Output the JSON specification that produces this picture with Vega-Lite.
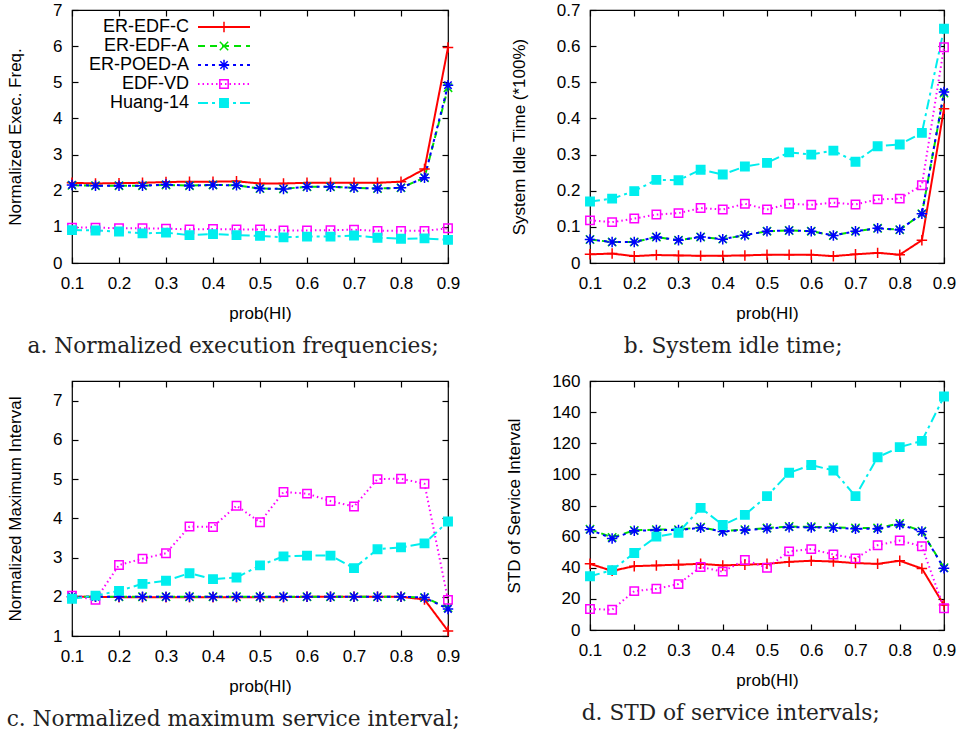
{
"$schema": "https://vega.github.io/schema/vega-lite/v6.json",
"padding": {"left": 5, "top": 0, "right": 0, "bottom": 5},
"background": "white",
"datasets": {
"a": [
{"p":0.1,"ER-EDF-C":2.22,"ER-EDF-A":2.15,"ER-POED-A":2.16,"EDF-VD":0.98,"Huang-14":0.91},
{"p":0.15,"ER-EDF-C":2.2,"ER-EDF-A":2.14,"ER-POED-A":2.14,"EDF-VD":0.98,"Huang-14":0.9},
{"p":0.2,"ER-EDF-C":2.21,"ER-EDF-A":2.14,"ER-POED-A":2.14,"EDF-VD":0.96,"Huang-14":0.87},
{"p":0.25,"ER-EDF-C":2.22,"ER-EDF-A":2.14,"ER-POED-A":2.14,"EDF-VD":0.96,"Huang-14":0.82},
{"p":0.3,"ER-EDF-C":2.24,"ER-EDF-A":2.16,"ER-POED-A":2.17,"EDF-VD":0.95,"Huang-14":0.84},
{"p":0.35,"ER-EDF-C":2.25,"ER-EDF-A":2.14,"ER-POED-A":2.14,"EDF-VD":0.93,"Huang-14":0.77},
{"p":0.4,"ER-EDF-C":2.25,"ER-EDF-A":2.16,"ER-POED-A":2.16,"EDF-VD":0.94,"Huang-14":0.8},
{"p":0.45,"ER-EDF-C":2.26,"ER-EDF-A":2.15,"ER-POED-A":2.15,"EDF-VD":0.93,"Huang-14":0.77},
{"p":0.5,"ER-EDF-C":2.2,"ER-EDF-A":2.06,"ER-POED-A":2.06,"EDF-VD":0.93,"Huang-14":0.75},
{"p":0.55,"ER-EDF-C":2.2,"ER-EDF-A":2.05,"ER-POED-A":2.05,"EDF-VD":0.9,"Huang-14":0.71},
{"p":0.6,"ER-EDF-C":2.22,"ER-EDF-A":2.11,"ER-POED-A":2.11,"EDF-VD":0.9,"Huang-14":0.73},
{"p":0.65,"ER-EDF-C":2.22,"ER-EDF-A":2.11,"ER-POED-A":2.11,"EDF-VD":0.91,"Huang-14":0.73},
{"p":0.7,"ER-EDF-C":2.22,"ER-EDF-A":2.08,"ER-POED-A":2.08,"EDF-VD":0.92,"Huang-14":0.76},
{"p":0.75,"ER-EDF-C":2.22,"ER-EDF-A":2.06,"ER-POED-A":2.06,"EDF-VD":0.89,"Huang-14":0.7},
{"p":0.8,"ER-EDF-C":2.25,"ER-EDF-A":2.08,"ER-POED-A":2.08,"EDF-VD":0.89,"Huang-14":0.67},
{"p":0.85,"ER-EDF-C":2.6,"ER-EDF-A":2.36,"ER-POED-A":2.36,"EDF-VD":0.89,"Huang-14":0.68},
{"p":0.9,"ER-EDF-C":5.96,"ER-EDF-A":4.85,"ER-POED-A":4.92,"EDF-VD":0.96,"Huang-14":0.64}
],
"b": [
{"p":0.1,"ER-EDF-C":0.024,"ER-EDF-A":0.065,"ER-POED-A":0.065,"EDF-VD":0.118,"Huang-14":0.17},
{"p":0.15,"ER-EDF-C":0.026,"ER-EDF-A":0.058,"ER-POED-A":0.058,"EDF-VD":0.113,"Huang-14":0.178},
{"p":0.2,"ER-EDF-C":0.019,"ER-EDF-A":0.058,"ER-POED-A":0.058,"EDF-VD":0.123,"Huang-14":0.199},
{"p":0.25,"ER-EDF-C":0.022,"ER-EDF-A":0.072,"ER-POED-A":0.072,"EDF-VD":0.134,"Huang-14":0.23},
{"p":0.3,"ER-EDF-C":0.021,"ER-EDF-A":0.063,"ER-POED-A":0.063,"EDF-VD":0.138,"Huang-14":0.229},
{"p":0.35,"ER-EDF-C":0.02,"ER-EDF-A":0.072,"ER-POED-A":0.072,"EDF-VD":0.152,"Huang-14":0.258},
{"p":0.4,"ER-EDF-C":0.02,"ER-EDF-A":0.066,"ER-POED-A":0.066,"EDF-VD":0.148,"Huang-14":0.245},
{"p":0.45,"ER-EDF-C":0.021,"ER-EDF-A":0.077,"ER-POED-A":0.077,"EDF-VD":0.164,"Huang-14":0.267},
{"p":0.5,"ER-EDF-C":0.023,"ER-EDF-A":0.088,"ER-POED-A":0.088,"EDF-VD":0.148,"Huang-14":0.277},
{"p":0.55,"ER-EDF-C":0.023,"ER-EDF-A":0.09,"ER-POED-A":0.09,"EDF-VD":0.164,"Huang-14":0.306},
{"p":0.6,"ER-EDF-C":0.023,"ER-EDF-A":0.088,"ER-POED-A":0.088,"EDF-VD":0.161,"Huang-14":0.3},
{"p":0.65,"ER-EDF-C":0.019,"ER-EDF-A":0.076,"ER-POED-A":0.076,"EDF-VD":0.167,"Huang-14":0.311},
{"p":0.7,"ER-EDF-C":0.024,"ER-EDF-A":0.088,"ER-POED-A":0.088,"EDF-VD":0.162,"Huang-14":0.28},
{"p":0.75,"ER-EDF-C":0.028,"ER-EDF-A":0.096,"ER-POED-A":0.096,"EDF-VD":0.176,"Huang-14":0.323},
{"p":0.8,"ER-EDF-C":0.023,"ER-EDF-A":0.092,"ER-POED-A":0.092,"EDF-VD":0.178,"Huang-14":0.328},
{"p":0.85,"ER-EDF-C":0.063,"ER-EDF-A":0.136,"ER-POED-A":0.136,"EDF-VD":0.215,"Huang-14":0.36},
{"p":0.9,"ER-EDF-C":0.427,"ER-EDF-A":0.47,"ER-POED-A":0.473,"EDF-VD":0.597,"Huang-14":0.648}
],
"c": [
{"p":0.1,"ER-EDF-C":2.0,"ER-EDF-A":2.0,"ER-POED-A":2.0,"EDF-VD":2.03,"Huang-14":1.95},
{"p":0.15,"ER-EDF-C":2.0,"ER-EDF-A":2.0,"ER-POED-A":2.0,"EDF-VD":1.92,"Huang-14":2.03},
{"p":0.2,"ER-EDF-C":1.99,"ER-EDF-A":2.0,"ER-POED-A":2.0,"EDF-VD":2.81,"Huang-14":2.15},
{"p":0.25,"ER-EDF-C":1.99,"ER-EDF-A":2.0,"ER-POED-A":2.0,"EDF-VD":2.97,"Huang-14":2.33},
{"p":0.3,"ER-EDF-C":1.99,"ER-EDF-A":2.0,"ER-POED-A":2.0,"EDF-VD":3.11,"Huang-14":2.41},
{"p":0.35,"ER-EDF-C":1.99,"ER-EDF-A":2.0,"ER-POED-A":2.0,"EDF-VD":3.79,"Huang-14":2.6},
{"p":0.4,"ER-EDF-C":1.99,"ER-EDF-A":2.0,"ER-POED-A":2.0,"EDF-VD":3.78,"Huang-14":2.45},
{"p":0.45,"ER-EDF-C":1.99,"ER-EDF-A":2.0,"ER-POED-A":2.0,"EDF-VD":4.32,"Huang-14":2.49},
{"p":0.5,"ER-EDF-C":1.99,"ER-EDF-A":2.0,"ER-POED-A":2.0,"EDF-VD":3.9,"Huang-14":2.8},
{"p":0.55,"ER-EDF-C":1.99,"ER-EDF-A":2.0,"ER-POED-A":2.0,"EDF-VD":4.67,"Huang-14":3.03},
{"p":0.6,"ER-EDF-C":2.0,"ER-EDF-A":2.0,"ER-POED-A":2.0,"EDF-VD":4.63,"Huang-14":3.05},
{"p":0.65,"ER-EDF-C":2.0,"ER-EDF-A":2.0,"ER-POED-A":2.0,"EDF-VD":4.44,"Huang-14":3.05},
{"p":0.7,"ER-EDF-C":2.0,"ER-EDF-A":2.0,"ER-POED-A":2.0,"EDF-VD":4.3,"Huang-14":2.73},
{"p":0.75,"ER-EDF-C":2.0,"ER-EDF-A":2.0,"ER-POED-A":2.0,"EDF-VD":5.0,"Huang-14":3.21},
{"p":0.8,"ER-EDF-C":2.0,"ER-EDF-A":2.0,"ER-POED-A":2.0,"EDF-VD":5.01,"Huang-14":3.26},
{"p":0.85,"ER-EDF-C":1.93,"ER-EDF-A":1.98,"ER-POED-A":1.98,"EDF-VD":4.88,"Huang-14":3.36},
{"p":0.9,"ER-EDF-C":1.13,"ER-EDF-A":1.72,"ER-POED-A":1.69,"EDF-VD":1.92,"Huang-14":3.92}
],
"d": [
{"p":0.1,"ER-EDF-C":42.5,"ER-EDF-A":64.8,"ER-POED-A":64.4,"EDF-VD":13.5,"Huang-14":34.5},
{"p":0.15,"ER-EDF-C":38,"ER-EDF-A":59.5,"ER-POED-A":58.8,"EDF-VD":13,"Huang-14":38.5},
{"p":0.2,"ER-EDF-C":41,"ER-EDF-A":64,"ER-POED-A":63.7,"EDF-VD":25,"Huang-14":49.5},
{"p":0.25,"ER-EDF-C":41.5,"ER-EDF-A":64.5,"ER-POED-A":64.2,"EDF-VD":26.5,"Huang-14":60},
{"p":0.3,"ER-EDF-C":42,"ER-EDF-A":64.5,"ER-POED-A":64.2,"EDF-VD":29.5,"Huang-14":62.5},
{"p":0.35,"ER-EDF-C":42.5,"ER-EDF-A":66,"ER-POED-A":65.7,"EDF-VD":40.5,"Huang-14":78.5},
{"p":0.4,"ER-EDF-C":41.5,"ER-EDF-A":63.5,"ER-POED-A":63.3,"EDF-VD":37.5,"Huang-14":67.5},
{"p":0.45,"ER-EDF-C":42,"ER-EDF-A":64.5,"ER-POED-A":64.2,"EDF-VD":45,"Huang-14":74},
{"p":0.5,"ER-EDF-C":42.5,"ER-EDF-A":65.5,"ER-POED-A":65.2,"EDF-VD":40,"Huang-14":86},
{"p":0.55,"ER-EDF-C":43.8,"ER-EDF-A":66.5,"ER-POED-A":66.1,"EDF-VD":50.5,"Huang-14":101},
{"p":0.6,"ER-EDF-C":44.5,"ER-EDF-A":66.3,"ER-POED-A":65.9,"EDF-VD":52,"Huang-14":106},
{"p":0.65,"ER-EDF-C":44,"ER-EDF-A":66,"ER-POED-A":65.7,"EDF-VD":48.5,"Huang-14":102.5},
{"p":0.7,"ER-EDF-C":43,"ER-EDF-A":65.5,"ER-POED-A":65,"EDF-VD":46,"Huang-14":86},
{"p":0.75,"ER-EDF-C":42.5,"ER-EDF-A":65.5,"ER-POED-A":65,"EDF-VD":54.5,"Huang-14":111},
{"p":0.8,"ER-EDF-C":44.5,"ER-EDF-A":68.5,"ER-POED-A":67.8,"EDF-VD":57.5,"Huang-14":117.5},
{"p":0.85,"ER-EDF-C":39.5,"ER-EDF-A":63.5,"ER-POED-A":63.3,"EDF-VD":53.8,"Huang-14":121.5},
{"p":0.9,"ER-EDF-C":16,"ER-EDF-A":40,"ER-POED-A":39.6,"EDF-VD":14,"Huang-14":150}
]
},
"columns": 2,
"spacing": {"row": 12, "column": 44},
"concat": [
{
"width": 376, "height": 253,
"data": {"name": "a"},
"transform": [{"fold": ["ER-EDF-C","ER-EDF-A","ER-POED-A","EDF-VD","Huang-14"], "as": ["series","value"]}],
"title": {"text": "a. Normalized execution frequencies;"},
"layer": [
{"mark": {"type": "line", "strokeWidth": 2},
"encoding": {
"x": {"field": "p", "type": "quantitative", "scale": {"domain": [0.1, 0.9], "nice": false, "zero": false}, "axis": {"orient": "bottom", "title": "prob(HI)", "values": [0.1,0.2,0.3,0.4,0.5,0.6,0.7,0.8,0.9], "format": ".1f"}},
"y": {"field": "value", "type": "quantitative", "scale": {"domain": [0, 7], "nice": false}, "axis": {"orient": "left", "title": "Normalized Exec. Freq.", "values": [0,1,2,3,4,5,6,7], "format": "d"}},
"color": {"field": "series", "type": "nominal", "scale": {"domain": ["ER-EDF-C","ER-EDF-A","ER-POED-A","EDF-VD","Huang-14"], "range": ["#ff0000","#00e000","#0000ff","#ff00ff","#00eeee"]}, "legend": {"orient": "none", "legendX": 143, "legendY": 8, "title": null, "symbolType": "M-5,0H5", "symbolSize": 108, "symbolStrokeWidth": 2, "labelAlign": "right", "labelOffset": -44, "labelFontSize": 18, "rowPadding": 1, "padding": 0}},
"strokeDash": {"field": "series", "type": "nominal", "scale": {"domain": ["ER-EDF-C","ER-EDF-A","ER-POED-A","EDF-VD","Huang-14"], "range": [[1,0],[7,5],[3,4],[1.5,3],[10,4,3,4]]}, "legend": {"orient": "none", "legendX": 143, "legendY": 8, "title": null, "symbolType": "M-5,0H5", "symbolSize": 108, "symbolStrokeWidth": 2, "labelAlign": "right", "labelOffset": -44, "labelFontSize": 18, "rowPadding": 1, "padding": 0}}
}},
{"mark": {"type": "point", "size": 110, "strokeWidth": 1.5, "opacity": 1},
"encoding": {
"x": {"field": "p", "type": "quantitative", "scale": {"domain": [0.1, 0.9], "nice": false, "zero": false}, "axis": {"orient": "top", "labels": false, "title": null, "values": [0.1,0.2,0.3,0.4,0.5,0.6,0.7,0.8,0.9]}},
"y": {"field": "value", "type": "quantitative", "scale": {"domain": [0, 7], "nice": false}, "axis": {"orient": "right", "labels": false, "title": null, "values": [0,1,2,3,4,5,6,7]}},
"stroke": {"field": "series", "type": "nominal", "sort": ["ER-EDF-C","ER-EDF-A","ER-POED-A","EDF-VD","Huang-14"], "scale": {"range": ["#ff0000","#00e000","#0000ff","#ff00ff","#00eeee"]}, "legend": null},
"fill": {"field": "series", "type": "nominal", "sort": ["ER-EDF-C","ER-EDF-A","ER-POED-A","EDF-VD","Huang-14"], "scale": {"range": ["transparent","transparent","transparent","transparent","#00eeee"]}, "legend": null},
"shape": {"field": "series", "type": "nominal", "sort": ["ER-EDF-C","ER-EDF-A","ER-POED-A","EDF-VD","Huang-14"], "scale": {"range": ["M-1,0H1M0,-1V1","M-0.8,-0.8L0.8,0.8M-0.8,0.8L0.8,-0.8","M-1,0H1M0,-1V1M-0.7,-0.7L0.7,0.7M-0.7,0.7L0.7,-0.7","M-0.8,-0.8H0.8V0.8H-0.8Z","M-0.8,-0.8H0.8V0.8H-0.8Z"]}, "legend": {"orient": "none", "legendX": 143, "legendY": 8, "title": null, "symbolSize": 110, "symbolStrokeWidth": 1.5, "labelOpacity": 0, "labelFontSize": 18, "rowPadding": 1, "padding": 0, "symbolOpacity": 1, "symbolStrokeColor": {"expr": "datum.value === 'ER-EDF-C' ? '#ff0000' : datum.value === 'ER-EDF-A' ? '#00e000' : datum.value === 'ER-POED-A' ? '#0000ff' : datum.value === 'EDF-VD' ? '#ff00ff' : '#00eeee'"}, "symbolFillColor": {"expr": "datum.value === 'Huang-14' ? '#00eeee' : 'transparent'"}}}
}}
]
},
{
"width": 354, "height": 253,
"data": {"name": "b"},
"transform": [{"fold": ["ER-EDF-C","ER-EDF-A","ER-POED-A","EDF-VD","Huang-14"], "as": ["series","value"]}],
"title": {"text": "b. System idle time;"},
"layer": [
{"mark": {"type": "line", "strokeWidth": 2},
"encoding": {
"x": {"field": "p", "type": "quantitative", "scale": {"domain": [0.1, 0.9], "nice": false, "zero": false}, "axis": {"orient": "bottom", "title": "prob(HI)", "values": [0.1,0.2,0.3,0.4,0.5,0.6,0.7,0.8,0.9], "format": ".1f"}},
"y": {"field": "value", "type": "quantitative", "scale": {"domain": [0, 0.7], "nice": false}, "axis": {"orient": "left", "title": "System Idle Time (*100%)", "values": [0,0.1,0.2,0.3,0.4,0.5,0.6,0.7], "format": "~g"}},
"color": {"field": "series", "type": "nominal", "scale": {"domain": ["ER-EDF-C","ER-EDF-A","ER-POED-A","EDF-VD","Huang-14"], "range": ["#ff0000","#00e000","#0000ff","#ff00ff","#00eeee"]}, "legend": {"orient": "none", "legendX": 143, "legendY": 8, "title": null, "symbolType": "M-5,0H5", "symbolSize": 108, "symbolStrokeWidth": 2, "labelAlign": "right", "labelOffset": -44, "labelFontSize": 18, "rowPadding": 1, "padding": 0}},
"strokeDash": {"field": "series", "type": "nominal", "scale": {"domain": ["ER-EDF-C","ER-EDF-A","ER-POED-A","EDF-VD","Huang-14"], "range": [[1,0],[7,5],[3,4],[1.5,3],[10,4,3,4]]}, "legend": {"orient": "none", "legendX": 143, "legendY": 8, "title": null, "symbolType": "M-5,0H5", "symbolSize": 108, "symbolStrokeWidth": 2, "labelAlign": "right", "labelOffset": -44, "labelFontSize": 18, "rowPadding": 1, "padding": 0}}
}},
{"mark": {"type": "point", "size": 110, "strokeWidth": 1.5, "opacity": 1},
"encoding": {
"x": {"field": "p", "type": "quantitative", "scale": {"domain": [0.1, 0.9], "nice": false, "zero": false}, "axis": {"orient": "top", "labels": false, "title": null, "values": [0.1,0.2,0.3,0.4,0.5,0.6,0.7,0.8,0.9]}},
"y": {"field": "value", "type": "quantitative", "scale": {"domain": [0, 0.7], "nice": false}, "axis": {"orient": "right", "labels": false, "title": null, "values": [0,0.1,0.2,0.3,0.4,0.5,0.6,0.7]}},
"stroke": {"field": "series", "type": "nominal", "sort": ["ER-EDF-C","ER-EDF-A","ER-POED-A","EDF-VD","Huang-14"], "scale": {"range": ["#ff0000","#00e000","#0000ff","#ff00ff","#00eeee"]}, "legend": null},
"fill": {"field": "series", "type": "nominal", "sort": ["ER-EDF-C","ER-EDF-A","ER-POED-A","EDF-VD","Huang-14"], "scale": {"range": ["transparent","transparent","transparent","transparent","#00eeee"]}, "legend": null},
"shape": {"field": "series", "type": "nominal", "sort": ["ER-EDF-C","ER-EDF-A","ER-POED-A","EDF-VD","Huang-14"], "scale": {"range": ["M-1,0H1M0,-1V1","M-0.8,-0.8L0.8,0.8M-0.8,0.8L0.8,-0.8","M-1,0H1M0,-1V1M-0.7,-0.7L0.7,0.7M-0.7,0.7L0.7,-0.7","M-0.8,-0.8H0.8V0.8H-0.8Z","M-0.8,-0.8H0.8V0.8H-0.8Z"]}, "legend": {"orient": "none", "legendX": 143, "legendY": 8, "title": null, "symbolSize": 110, "symbolStrokeWidth": 1.5, "labelOpacity": 0, "labelFontSize": 18, "rowPadding": 1, "padding": 0, "symbolOpacity": 1, "symbolStrokeColor": {"expr": "datum.value === 'ER-EDF-C' ? '#ff0000' : datum.value === 'ER-EDF-A' ? '#00e000' : datum.value === 'ER-POED-A' ? '#0000ff' : datum.value === 'EDF-VD' ? '#ff00ff' : '#00eeee'"}, "symbolFillColor": {"expr": "datum.value === 'Huang-14' ? '#00eeee' : 'transparent'"}}}
}}
]
},
{
"width": 376, "height": 255,
"data": {"name": "c"},
"transform": [{"fold": ["ER-EDF-C","ER-EDF-A","ER-POED-A","EDF-VD","Huang-14"], "as": ["series","value"]}],
"title": {"text": "c. Normalized maximum service interval;"},
"layer": [
{"mark": {"type": "line", "strokeWidth": 2},
"encoding": {
"x": {"field": "p", "type": "quantitative", "scale": {"domain": [0.1, 0.9], "nice": false, "zero": false}, "axis": {"orient": "bottom", "title": "prob(HI)", "values": [0.1,0.2,0.3,0.4,0.5,0.6,0.7,0.8,0.9], "format": ".1f"}},
"y": {"field": "value", "type": "quantitative", "scale": {"domain": [1, 7.5], "nice": false, "zero": false}, "axis": {"orient": "left", "title": "Normalized Maximum Interval", "values": [1,2,3,4,5,6,7], "format": "d"}},
"color": {"field": "series", "type": "nominal", "scale": {"domain": ["ER-EDF-C","ER-EDF-A","ER-POED-A","EDF-VD","Huang-14"], "range": ["#ff0000","#00e000","#0000ff","#ff00ff","#00eeee"]}, "legend": {"orient": "none", "legendX": 143, "legendY": 10, "title": null, "symbolType": "M-5,0H5", "symbolSize": 108, "symbolStrokeWidth": 2, "labelAlign": "right", "labelOffset": -44, "labelFontSize": 18, "rowPadding": 1, "padding": 0}},
"strokeDash": {"field": "series", "type": "nominal", "scale": {"domain": ["ER-EDF-C","ER-EDF-A","ER-POED-A","EDF-VD","Huang-14"], "range": [[1,0],[7,5],[3,4],[1.5,3],[10,4,3,4]]}, "legend": {"orient": "none", "legendX": 143, "legendY": 10, "title": null, "symbolType": "M-5,0H5", "symbolSize": 108, "symbolStrokeWidth": 2, "labelAlign": "right", "labelOffset": -44, "labelFontSize": 18, "rowPadding": 1, "padding": 0}}
}},
{"mark": {"type": "point", "size": 110, "strokeWidth": 1.5, "opacity": 1},
"encoding": {
"x": {"field": "p", "type": "quantitative", "scale": {"domain": [0.1, 0.9], "nice": false, "zero": false}, "axis": {"orient": "top", "labels": false, "title": null, "values": [0.1,0.2,0.3,0.4,0.5,0.6,0.7,0.8,0.9]}},
"y": {"field": "value", "type": "quantitative", "scale": {"domain": [1, 7.5], "nice": false, "zero": false}, "axis": {"orient": "right", "labels": false, "title": null, "values": [1,2,3,4,5,6,7]}},
"stroke": {"field": "series", "type": "nominal", "sort": ["ER-EDF-C","ER-EDF-A","ER-POED-A","EDF-VD","Huang-14"], "scale": {"range": ["#ff0000","#00e000","#0000ff","#ff00ff","#00eeee"]}, "legend": null},
"fill": {"field": "series", "type": "nominal", "sort": ["ER-EDF-C","ER-EDF-A","ER-POED-A","EDF-VD","Huang-14"], "scale": {"range": ["transparent","transparent","transparent","transparent","#00eeee"]}, "legend": null},
"shape": {"field": "series", "type": "nominal", "sort": ["ER-EDF-C","ER-EDF-A","ER-POED-A","EDF-VD","Huang-14"], "scale": {"range": ["M-1,0H1M0,-1V1","M-0.8,-0.8L0.8,0.8M-0.8,0.8L0.8,-0.8","M-1,0H1M0,-1V1M-0.7,-0.7L0.7,0.7M-0.7,0.7L0.7,-0.7","M-0.8,-0.8H0.8V0.8H-0.8Z","M-0.8,-0.8H0.8V0.8H-0.8Z"]}, "legend": {"orient": "none", "legendX": 143, "legendY": 10, "title": null, "symbolSize": 110, "symbolStrokeWidth": 1.5, "labelOpacity": 0, "labelFontSize": 18, "rowPadding": 1, "padding": 0, "symbolOpacity": 1, "symbolStrokeColor": {"expr": "datum.value === 'ER-EDF-C' ? '#ff0000' : datum.value === 'ER-EDF-A' ? '#00e000' : datum.value === 'ER-POED-A' ? '#0000ff' : datum.value === 'EDF-VD' ? '#ff00ff' : '#00eeee'"}, "symbolFillColor": {"expr": "datum.value === 'Huang-14' ? '#00eeee' : 'transparent'"}}}
}}
]
},
{
"width": 354, "height": 249,
"data": {"name": "d"},
"transform": [{"fold": ["ER-EDF-C","ER-EDF-A","ER-POED-A","EDF-VD","Huang-14"], "as": ["series","value"]}],
"title": {"text": "d. STD of service intervals;"},
"layer": [
{"mark": {"type": "line", "strokeWidth": 2},
"encoding": {
"x": {"field": "p", "type": "quantitative", "scale": {"domain": [0.1, 0.9], "nice": false, "zero": false}, "axis": {"orient": "bottom", "title": "prob(HI)", "values": [0.1,0.2,0.3,0.4,0.5,0.6,0.7,0.8,0.9], "format": ".1f"}},
"y": {"field": "value", "type": "quantitative", "scale": {"domain": [0, 160], "nice": false}, "axis": {"orient": "left", "title": "STD of Service Interval", "values": [0,20,40,60,80,100,120,140,160], "format": "d"}},
"color": {"field": "series", "type": "nominal", "scale": {"domain": ["ER-EDF-C","ER-EDF-A","ER-POED-A","EDF-VD","Huang-14"], "range": ["#ff0000","#00e000","#0000ff","#ff00ff","#00eeee"]}, "legend": {"orient": "none", "legendX": 146, "legendY": 5, "title": null, "symbolType": "M-5,0H5", "symbolSize": 108, "symbolStrokeWidth": 2, "labelAlign": "right", "labelOffset": -44, "labelFontSize": 18, "rowPadding": 1, "padding": 0}},
"strokeDash": {"field": "series", "type": "nominal", "scale": {"domain": ["ER-EDF-C","ER-EDF-A","ER-POED-A","EDF-VD","Huang-14"], "range": [[1,0],[7,5],[3,4],[1.5,3],[10,4,3,4]]}, "legend": {"orient": "none", "legendX": 146, "legendY": 5, "title": null, "symbolType": "M-5,0H5", "symbolSize": 108, "symbolStrokeWidth": 2, "labelAlign": "right", "labelOffset": -44, "labelFontSize": 18, "rowPadding": 1, "padding": 0}}
}},
{"mark": {"type": "point", "size": 110, "strokeWidth": 1.5, "opacity": 1},
"encoding": {
"x": {"field": "p", "type": "quantitative", "scale": {"domain": [0.1, 0.9], "nice": false, "zero": false}, "axis": {"orient": "top", "labels": false, "title": null, "values": [0.1,0.2,0.3,0.4,0.5,0.6,0.7,0.8,0.9]}},
"y": {"field": "value", "type": "quantitative", "scale": {"domain": [0, 160], "nice": false}, "axis": {"orient": "right", "labels": false, "title": null, "values": [0,20,40,60,80,100,120,140,160]}},
"stroke": {"field": "series", "type": "nominal", "sort": ["ER-EDF-C","ER-EDF-A","ER-POED-A","EDF-VD","Huang-14"], "scale": {"range": ["#ff0000","#00e000","#0000ff","#ff00ff","#00eeee"]}, "legend": null},
"fill": {"field": "series", "type": "nominal", "sort": ["ER-EDF-C","ER-EDF-A","ER-POED-A","EDF-VD","Huang-14"], "scale": {"range": ["transparent","transparent","transparent","transparent","#00eeee"]}, "legend": null},
"shape": {"field": "series", "type": "nominal", "sort": ["ER-EDF-C","ER-EDF-A","ER-POED-A","EDF-VD","Huang-14"], "scale": {"range": ["M-1,0H1M0,-1V1","M-0.8,-0.8L0.8,0.8M-0.8,0.8L0.8,-0.8","M-1,0H1M0,-1V1M-0.7,-0.7L0.7,0.7M-0.7,0.7L0.7,-0.7","M-0.8,-0.8H0.8V0.8H-0.8Z","M-0.8,-0.8H0.8V0.8H-0.8Z"]}, "legend": {"orient": "none", "legendX": 146, "legendY": 5, "title": null, "symbolSize": 110, "symbolStrokeWidth": 1.5, "labelOpacity": 0, "labelFontSize": 18, "rowPadding": 1, "padding": 0, "symbolOpacity": 1, "symbolStrokeColor": {"expr": "datum.value === 'ER-EDF-C' ? '#ff0000' : datum.value === 'ER-EDF-A' ? '#00e000' : datum.value === 'ER-POED-A' ? '#0000ff' : datum.value === 'EDF-VD' ? '#ff00ff' : '#00eeee'"}, "symbolFillColor": {"expr": "datum.value === 'Huang-14' ? '#00eeee' : 'transparent'"}}}
}}
]
}
],
"config": {
"font": "Liberation Sans",
"view": {"stroke": "black", "strokeWidth": 1.2},
"axis": {"grid": false, "domain": false, "tickSize": -6, "tickColor": "black", "tickWidth": 1.2, "labelFontSize": 17, "labelColor": "black", "labelFlush": false, "labelOverlap": false, "titleFontSize": 17, "titleFontWeight": "normal", "titleColor": "black"},
"axisX": {"labelPadding": 18, "titlePadding": 14, "labelAngle": 0},
"axisY": {"labelPadding": 16, "titlePadding": 28},
"legend": {"labelColor": "black", "labelFont": "Liberation Sans"},
"title": {"font": "DejaVu Serif", "fontSize": 21.7, "fontWeight": "normal", "orient": "bottom", "offset": 15, "frame": "bounds", "anchor": "middle", "color": "#222222"}
}
}
